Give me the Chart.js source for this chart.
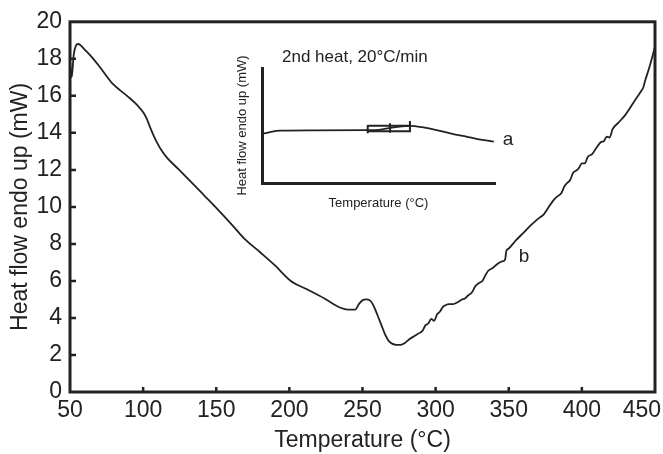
<!DOCTYPE html>
<html>
<head>
<meta charset="utf-8">
<script src="https://cdn.jsdelivr.net/npm/chart.js@4.4.1/dist/chart.umd.min.js"></script>
<style>
  body { margin: 0; background: #fff; }
  #wrap { position: relative; width: 663px; height: 454px; }
  #inset { position: absolute; left: 225px; top: 40px; }
</style>
</head>
<body>
<div id="wrap">
  <canvas id="mainChart" width="663" height="454"></canvas>
  <canvas id="inset" width="300" height="175"></canvas>
</div>
<script>
// main curve (b)
const temps = [50, 51.2, 52.5, 54, 55.5, 57, 60, 63.7, 70, 78.6, 89, 96, 100.4, 102.5, 105, 107.5, 109.6, 113, 116.4,
  124, 132.4, 142, 150.8, 160, 169, 180, 190, 201, 212, 224, 235, 240, 245, 247.5, 250, 252.5, 255, 257, 259, 261,
  263, 265.5, 268, 270.5, 273, 276, 279, 282, 285, 288, 291, 293, 295, 297, 299, 301, 303, 305, 307, 309, 312, 315,
  318, 320, 322, 325, 327, 330, 332, 334, 336, 339, 342, 345, 347.5, 348.3, 350, 355, 360, 365, 370, 374, 377, 380,
  383, 386, 388, 390, 392, 394, 396, 398, 400, 402, 404, 407, 410, 413, 415, 417, 419, 421, 425, 430, 435, 440, 442,
  443, 446, 450];
const heatFlow = [17.9, 17.0, 18.2, 18.7, 18.8, 18.75, 18.5, 18.2, 17.6, 16.7, 16.0, 15.5, 15.07, 14.75, 14.26, 13.8, 13.46, 13.0, 12.65,
  12.05, 11.38, 10.6, 9.88, 9.1, 8.3, 7.55, 6.85, 6.0, 5.55, 5.05, 4.55, 4.45, 4.45, 4.75, 4.95, 5.0, 4.95, 4.75, 4.4, 4.0,
  3.6, 3.1, 2.75, 2.6, 2.55, 2.55, 2.65, 2.85, 3.0, 3.15, 3.3, 3.6, 3.7, 3.95, 3.85, 4.2, 4.35, 4.6, 4.7, 4.75, 4.75, 4.85,
  5.0, 5.05, 5.2, 5.4, 5.7, 5.9, 6.0, 6.3, 6.55, 6.7, 6.9, 7.05, 7.15, 7.6, 7.75, 8.2, 8.6, 9.0, 9.35, 9.6, 9.95, 10.3,
  10.55, 10.75, 11.1, 11.3, 11.45, 11.85, 11.95, 12.1, 12.35, 12.35, 12.7, 12.85, 13.2, 13.5, 13.55, 13.8, 13.75, 14.2, 14.55, 15.0, 15.6, 16.2, 16.45,
  16.75, 17.5, 18.65];
const xTicks = [50, 100, 150, 200, 250, 300, 350, 400, 450];
const yTicks = [0, 2, 4, 6, 8, 10, 12, 14, 16, 18, 20];

// inset curve (a), arbitrary units
const insetX = [50, 62, 81, 140, 230, 250, 262, 270, 290, 304, 325, 350, 375, 401, 425, 448];
const insetY = [4.26, 4.4, 4.55, 4.58, 4.6, 4.62, 4.72, 4.8, 4.92, 4.96, 4.85, 4.6, 4.3, 4.03, 3.78, 3.6];
// bracket path: left bar, top line, right bar + bottom line, middle bar
const bracketPts = [
  [231.5, 4.32], [231.5, 5.04], [null, null],
  [231.5, 4.98], [304, 4.98], [null, null],
  [304, 5.39], [304, 4.5], [231.5, 4.5], [null, null],
  [269.8, 5.19], [269.8, 4.38]
];

const INK = '#222';
const FONT = '"Liberation Sans", Arial, Helvetica, sans-serif';

const frame = {
  id: 'frame',
  afterDraw(chart) {
    const { ctx, chartArea: a, scales: { x, y } } = chart;
    ctx.save();
    ctx.strokeStyle = INK;
    ctx.lineWidth = 3;
    ctx.strokeRect(a.left, a.top, a.right - a.left, a.bottom - a.top);
    ctx.lineWidth = 2.5;
    ctx.beginPath();
    xTicks.slice(1, -1).forEach(v => {
      const px = x.getPixelForValue(v);
      ctx.moveTo(px, a.bottom);
      ctx.lineTo(px, a.bottom - 5);
    });
    yTicks.slice(1, -1).forEach(v => {
      const py = y.getPixelForValue(v);
      ctx.moveTo(a.left, py);
      ctx.lineTo(a.left + 6, py);
    });
    ctx.stroke();

    ctx.fillStyle = INK;
    ctx.font = '23px ' + FONT;
    ctx.textAlign = 'center';
    ctx.textBaseline = 'top';
    xTicks.forEach(v => {
      const s = String(v);
      const w = ctx.measureText(s).width;
      let px = x.getPixelForValue(v);
      px = Math.min(px, chart.width - 2 - w / 2);
      ctx.fillText(s, px, a.bottom + 7);
    });

    ctx.font = '19px ' + FONT;
    ctx.textBaseline = 'middle';
    ctx.fillText('b', x.getPixelForValue(360.5), y.getPixelForValue(7.3));
    ctx.restore();
  }
};

new Chart(document.getElementById('mainChart'), {
  type: 'line',
  data: {
    datasets: [{
      data: temps.map((t, i) => ({ x: t, y: heatFlow[i] })),
      borderColor: INK,
      borderWidth: 1.8,
      pointRadius: 0,
      cubicInterpolationMode: 'monotone',
      fill: false
    }]
  },
  options: {
    responsive: false,
    animation: false,
    layout: { padding: { left: 0, right: 8, top: 21, bottom: 0 } },
    plugins: { legend: { display: false }, tooltip: { enabled: false } },
    scales: {
      x: {
        type: 'linear',
        min: 50,
        max: 450,
        grid: { display: false },
        border: { display: false },
        ticks: { display: false },
        title: {
          display: true,
          text: 'Temperature (\u00B0C)',
          color: INK,
          font: { family: FONT, size: 23 },
          padding: { top: 0, bottom: 0 }
        },
        afterFit(s) { s.height = 62; s.paddingLeft = 0; s.paddingRight = 0; }
      },
      y: {
        min: 0,
        max: 20,
        afterBuildTicks(s) { s.ticks = yTicks.map(v => ({ value: v })); },
        grid: { display: false, drawTicks: false },
        border: { display: false },
        ticks: { color: INK, font: { family: FONT, size: 23 }, padding: 8 },
        title: {
          display: true,
          text: 'Heat flow endo up (mW)',
          color: INK,
          font: { family: FONT, size: 23 },
          padding: { top: 7, bottom: 0 }
        },
        afterFit(s) { s.width = 70; }
      }
    }
  },
  plugins: [frame]
});

const insetText = {
  id: 'insetText',
  afterDraw(chart) {
    const { ctx, chartArea: a, scales: { x, y } } = chart;
    ctx.save();
    ctx.fillStyle = INK;
    ctx.font = '17px ' + FONT;
    ctx.textAlign = 'left';
    ctx.textBaseline = 'middle';
    ctx.fillText('2nd heat, 20\u00B0C/min', a.left + 20, a.top - 11);
    ctx.font = '19px ' + FONT;
    ctx.textAlign = 'center';
    ctx.fillText('a', a.right + 13, y.getPixelForValue(3.8));
    ctx.restore();
  }
};

new Chart(document.getElementById('inset'), {
  type: 'line',
  data: {
    datasets: [{
      data: insetX.map((t, i) => ({ x: t, y: insetY[i] })),
      borderColor: INK,
      borderWidth: 1.8,
      pointRadius: 0,
      cubicInterpolationMode: 'monotone'
    }, {
      data: bracketPts.map(p => ({ x: p[0], y: p[1] })),
      borderColor: INK,
      borderWidth: 2,
      pointRadius: 0,
      spanGaps: false
    }]
  },
  options: {
    responsive: false,
    animation: false,
    layout: { padding: { left: 0, right: 30, top: 28, bottom: 0 } },
    plugins: { legend: { display: false }, tooltip: { enabled: false } },
    scales: {
      x: {
        type: 'linear',
        min: 50,
        max: 450,
        grid: { display: false },
        border: { display: true, width: 3, color: INK },
        ticks: { display: false },
        title: {
          display: true,
          text: 'Temperature (\u00B0C)',
          color: INK,
          font: { family: FONT, size: 13 },
          padding: { top: 0, bottom: 4 }
        },
        afterFit(s) { s.height = 32; s.paddingLeft = 0; s.paddingRight = 0; }
      },
      y: {
        min: 0,
        max: 10,
        grid: { display: false },
        border: { display: true, width: 3, color: INK },
        ticks: { display: false },
        title: {
          display: true,
          text: 'Heat flow endo up (mW)',
          color: INK,
          font: { family: FONT, size: 13 },
          padding: { top: 10, bottom: 0 }
        },
        afterFit(s) { s.width = 37; }
      }
    }
  },
  plugins: [insetText]
});
</script>
</body>
</html>
